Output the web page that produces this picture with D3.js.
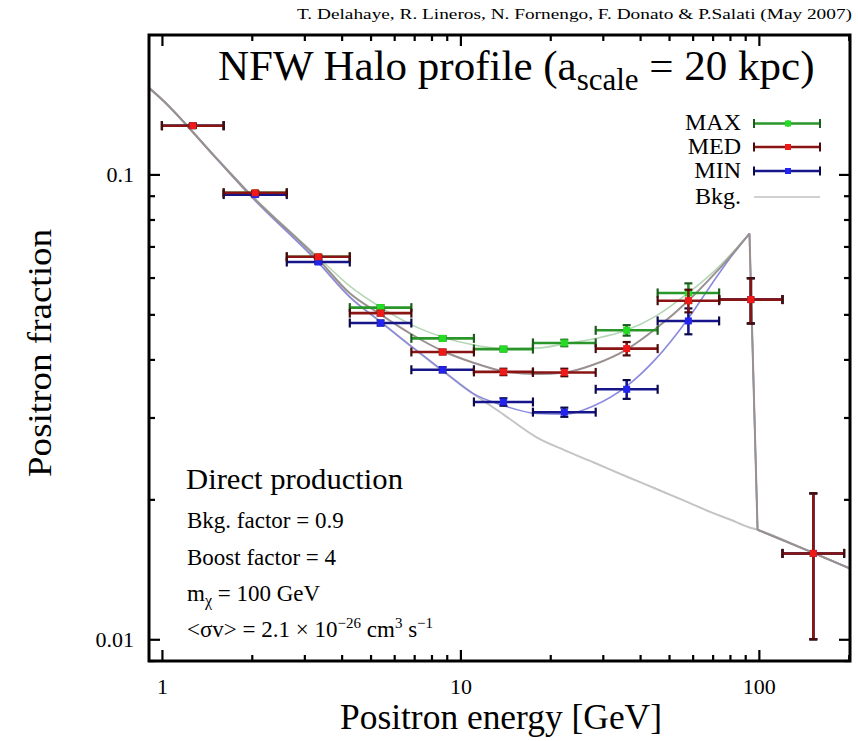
<!DOCTYPE html>
<html><head><meta charset="utf-8">
<script src="https://cdn.jsdelivr.net/npm/d3@7"></script>
<style>
body{margin:0;background:#fff}
svg{display:block}
text{font-family:"Liberation Serif","Times New Roman",serif;fill:#000}
</style>
</head><body>
<svg id="c" width="858" height="741"></svg>
<script>
// ---- data ----
const binEdges = [1.0, 1.61, 2.62, 4.26, 6.85, 11.1, 17.5, 28.4, 45.8, 73.6, 120, 193];
const maxVals = [0.1273, 0.0913, 0.0665, 0.0517, 0.0444, 0.0421, 0.0434, 0.0462, 0.0556, 0.0538, 0.0153];
const maxErr  = [0.0012, 0.0008, 0.0006, 0.0006, 0.0005, 0.0005, 0.0007, 0.0012, 0.0027, 0.0060, 0.0053];
const medVals = [0.1273, 0.0913, 0.0665, 0.0503, 0.0415, 0.0376, 0.0375, 0.0422, 0.0535, 0.0538, 0.0153];
const medErr  = [0.0012, 0.0008, 0.0006, 0.0006, 0.0005, 0.0006, 0.0007, 0.0014, 0.0030, 0.0060, 0.0053];
const minVals = [0.1273, 0.0905, 0.0648, 0.0479, 0.0380, 0.0324, 0.0308, 0.0345, 0.0484, 0.0538, 0.0153];
const minErr  = [0.0012, 0.0008, 0.0006, 0.0006, 0.0005, 0.0006, 0.0007, 0.0016, 0.0031, 0.0060, 0.0053];

const modelE   = [0.9, 1, 1.5, 2, 3.33, 4.26, 5.4, 6.9, 8.8, 11, 14, 18, 22.4, 28, 36, 45, 58, 70, 80, 93, 99, 150, 202];
const bkgModel = [0.154, 0.145, 0.1093, 0.0894, 0.0648, 0.0545, 0.0482, 0.0425, 0.0376, 0.0338, 0.0304, 0.0272, 0.0255, 0.0240, 0.0224, 0.0211, 0.0197, 0.0187, 0.0181, 0.0174, 0.0172, 0.0154, 0.0142];
const minModel = [0.154, 0.145, 0.1093, 0.0894, 0.0648, 0.0545, 0.0482, 0.0425, 0.0377, 0.0338, 0.0318, 0.0306, 0.0305, 0.0318, 0.0350, 0.0400, 0.0490, 0.0585, 0.0660, 0.0746, 0.0172, 0.0154, 0.0142];
const medModel = [0.154, 0.145, 0.1095, 0.0898, 0.0658, 0.0555, 0.0500, 0.0452, 0.0416, 0.0394, 0.0377, 0.0372, 0.0375, 0.0390, 0.0420, 0.0465, 0.0535, 0.0605, 0.0665, 0.0746, 0.0172, 0.0154, 0.0142];
const maxModel = [0.154, 0.145, 0.1097, 0.0902, 0.0665, 0.0575, 0.0518, 0.0474, 0.0446, 0.0430, 0.0422, 0.0423, 0.0432, 0.0443, 0.0462, 0.0495, 0.0556, 0.0615, 0.0670, 0.0746, 0.0172, 0.0154, 0.0142];

const xMajor = [1, 10, 100];
const xMinor = [2,3,4,5,6,7,8,9,20,30,40,50,60,70,80,90,200];
const yMajor = [0.01, 0.1];
const yMinor = [0.009,0.02,0.03,0.04,0.05,0.06,0.07,0.08,0.09];
const xTickLabels = ["1", "10", "100"];
const yTickLabels = ["0.01", "0.1"];
const legendNames = ["MAX", "MED", "MIN", "Bkg."];

// ---- layout ----
const L = 149, R = 850, T = 35, B = 661;
const svg = d3.select("#c");
const x = d3.scaleLog().domain([0.905, 202]).range([L, R]);
const y = d3.scaleLog().domain([0.00898, 0.1995]).range([B, T]);

const col = {
  MAX: {bar:"#2a962a", mark:"#22dd22", cap:"#1b5e1b", curve:"#b5d6b5"},
  MED: {bar:"#8a1414", mark:"#ee1a1a", cap:"#4a0a0a", curve:"#9a9090"},
  MIN: {bar:"#16168a", mark:"#2323ee", cap:"#0a0a4a", curve:"#8a8ade"}
};

svg.append("clipPath").attr("id","clip").append("rect")
  .attr("x",L).attr("y",T).attr("width",R-L).attr("height",B-T);

const smooth = d3.line().x(d=>x(d[0])).y(d=>y(d[1])).curve(d3.curveMonotoneX);
const straight = d3.line().x(d=>x(d[0])).y(d=>y(d[1]));
const peakIdx = modelE.indexOf(93);
const curves = svg.append("g").attr("clip-path","url(#clip)").attr("fill","none");
function drawModel(vals, stroke, w, sharp) {
  const pts = modelE.map((e,i)=>[e,vals[i]]);
  if (!sharp) {
    curves.append("path").datum(pts).attr("d",smooth).attr("stroke",stroke).attr("stroke-width",w);
    return;
  }
  curves.append("path").datum(pts.slice(0,peakIdx+1)).attr("d",smooth).attr("stroke",stroke).attr("stroke-width",w);
  curves.append("path").datum(pts.slice(peakIdx,peakIdx+2)).attr("d",straight).attr("stroke",stroke).attr("stroke-width",w);
  curves.append("path").datum(pts.slice(peakIdx+1)).attr("d",smooth).attr("stroke",stroke).attr("stroke-width",w);
}
drawModel(bkgModel, "#c4c4c4", 2, false);
drawModel(maxModel, col.MAX.curve, 1.6, true);
drawModel(minModel, col.MIN.curve, 1.6, true);
drawModel(medModel, col.MED.curve, 2, true);

// ---- data points with error bars ----
function drawSeries(vals, errs, c) {
  const d = vals.map((v,i)=>({v, e:errs[i], lo:binEdges[i], hi:binEdges[i+1], m:Math.sqrt(binEdges[i]*binEdges[i+1])}));
  const g = svg.append("g");
  g.selectAll(".h").data(d).join("line")
    .attr("x1",d=>x(d.lo)).attr("x2",d=>x(d.hi)).attr("y1",d=>y(d.v)).attr("y2",d=>y(d.v))
    .attr("stroke",c.bar).attr("stroke-width",2.6);
  g.selectAll(".v").data(d).join("line")
    .attr("x1",d=>x(d.m)).attr("x2",d=>x(d.m)).attr("y1",d=>y(d.v-d.e)).attr("y2",d=>y(d.v+d.e))
    .attr("stroke",c.bar).attr("stroke-width",2.6);
  ["lo","hi"].forEach(k=>{
    g.selectAll(".c"+k).data(d).join("line")
      .attr("x1",d=>x(d[k])).attr("x2",d=>x(d[k])).attr("y1",d=>y(d.v)-4.5).attr("y2",d=>y(d.v)+4.5)
      .attr("stroke",c.cap).attr("stroke-width",2.2);
  });
  [-1,1].forEach(s=>{
    g.selectAll(".cv"+s).data(d).join("line")
      .attr("x1",d=>x(d.m)-4).attr("x2",d=>x(d.m)+4)
      .attr("y1",d=>y(d.v+s*d.e)).attr("y2",d=>y(d.v+s*d.e))
      .attr("stroke",c.cap).attr("stroke-width",2.2);
  });
  g.selectAll(".m").data(d).join("rect")
    .attr("x",d=>x(d.m)-3.5).attr("y",d=>y(d.v)-3.5).attr("width",7).attr("height",7)
    .attr("fill",c.mark);
}
drawSeries(maxVals, maxErr, col.MAX);
drawSeries(minVals, minErr, col.MIN);
drawSeries(medVals, medErr, col.MED);

// ---- axes ----
function ax(gen, scale, vals, size, labels, tx, ty) {
  const a = gen(scale).tickValues(vals).tickSizeInner(-size).tickSizeOuter(0).tickPadding(labels?17:0)
    .tickFormat((d,i)=>labels?labels[i]:"");
  const g = svg.append("g").attr("transform",`translate(${tx},${ty})`).call(a);
  g.select(".domain").remove();
  g.selectAll(".tick line").attr("stroke","#000").attr("stroke-width",2.2);
  g.selectAll("text").attr("font-size",22).attr("font-family",'"Liberation Serif",serif').attr("fill","#000");
  return g;
}
ax(d3.axisBottom, x, xMajor, 11, xTickLabels, 0, B);
ax(d3.axisBottom, x, xMinor, 6, null, 0, B);
ax(d3.axisTop, x, xMajor, 11, null, 0, T);
ax(d3.axisTop, x, xMinor, 6, null, 0, T);
ax(d3.axisLeft, y, yMajor, 11, yTickLabels, L, 0).selectAll("text").attr("dx",2);
ax(d3.axisLeft, y, yMinor, 6, null, L, 0);
ax(d3.axisRight, y, yMajor, 11, null, R, 0);
ax(d3.axisRight, y, yMinor, 6, null, R, 0);

svg.append("rect").attr("x",L).attr("y",T).attr("width",R-L).attr("height",B-T)
  .attr("fill","none").attr("stroke","#000").attr("stroke-width",3);

// ---- texts ----
svg.append("text").attr("x",852).attr("y",19).attr("text-anchor","end").attr("font-size",14.5)
  .attr("textLength",555).attr("lengthAdjust","spacingAndGlyphs")
  .text("T. Delahaye, R. Lineros, N. Fornengo, F. Donato & P.Salati (May 2007)");

const title = svg.append("text").attr("x",218).attr("y",80).attr("font-size",43);
title.append("tspan").text("NFW Halo profile (a");
title.append("tspan").attr("font-size",31).attr("dy",10).text("scale");
title.append("tspan").attr("dy",-10).text(" = 20 kpc)");

svg.append("text").attr("transform","translate(51,353) rotate(-90)").attr("text-anchor","middle")
  .attr("font-size",34).attr("textLength",248).attr("lengthAdjust","spacingAndGlyphs").text("Positron fraction");
svg.append("text").attr("x",501).attr("y",729).attr("text-anchor","middle")
  .attr("font-size",35).attr("textLength",322).attr("lengthAdjust","spacingAndGlyphs").text("Positron energy [GeV]");

// legend
const legY = [123.5, 147, 171, 197];
const legC = [col.MAX, col.MED, col.MIN];
legendNames.forEach((n,i)=>{
  svg.append("text").attr("x",741).attr("y",legY[i]+6.5).attr("text-anchor","end").attr("font-size",24).text(n);
  const x1 = 754, x2 = 820, xm = 788, yy = legY[i];
  if (i<3) {
    const c = legC[i];
    svg.append("line").attr("x1",x1).attr("x2",x2).attr("y1",yy).attr("y2",yy).attr("stroke",c.bar).attr("stroke-width",2.4);
    [x1,x2].forEach(xx=>svg.append("line").attr("x1",xx).attr("x2",xx).attr("y1",yy-4.5).attr("y2",yy+4.5).attr("stroke",c.cap).attr("stroke-width",2));
    svg.append("line").attr("x1",xm).attr("x2",xm).attr("y1",yy-3).attr("y2",yy+3).attr("stroke",c.bar).attr("stroke-width",2);
    svg.append("rect").attr("x",xm-3).attr("y",yy-3).attr("width",6).attr("height",6).attr("fill",c.mark);
  } else {
    svg.append("line").attr("x1",x1).attr("x2",x2).attr("y1",yy).attr("y2",yy).attr("stroke","#d0d0d0").attr("stroke-width",2);
  }
});

// annotation
svg.append("text").attr("x",186).attr("y",489).attr("font-size",29)
  .attr("textLength",217).attr("lengthAdjust","spacingAndGlyphs").text("Direct production");
svg.append("text").attr("x",187).attr("y",528).attr("font-size",23).text("Bkg. factor = 0.9");
svg.append("text").attr("x",187).attr("y",565).attr("font-size",23).text("Boost factor = 4");
const mt = svg.append("text").attr("x",187).attr("y",601).attr("font-size",23);
mt.append("tspan").text("m");
mt.append("tspan").attr("font-size",16).attr("dy",5).text("χ");
mt.append("tspan").attr("dy",-5).text(" = 100 GeV");
const st = svg.append("text").attr("x",187).attr("y",637).attr("font-size",23);
st.append("tspan").text("<σv> = 2.1 × 10");
st.append("tspan").attr("font-size",15).attr("dy",-9).text("−26");
st.append("tspan").attr("dy",9).text(" cm");
st.append("tspan").attr("font-size",15).attr("dy",-9).text("3");
st.append("tspan").attr("dy",9).text(" s");
st.append("tspan").attr("font-size",15).attr("dy",-9).text("−1");
</script>
</body></html>
